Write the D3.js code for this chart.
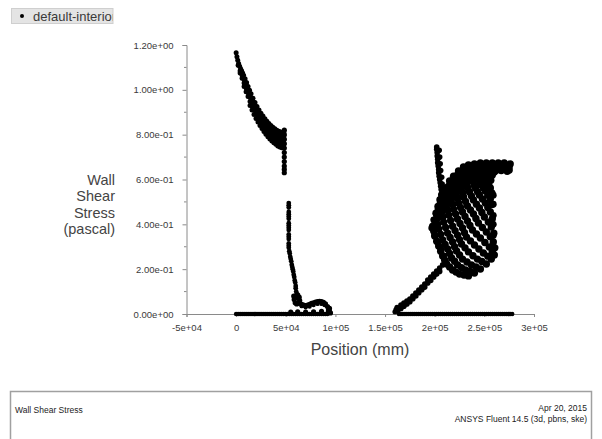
<!DOCTYPE html>
<html>
<head>
<meta charset="utf-8">
<script src="https://cdn.jsdelivr.net/npm/d3@7"></script>
<style>
  html, body { margin: 0; padding: 0; background: #fff; }
  svg { display: block; font-family: "Liberation Sans", Arial, sans-serif; }
</style>
</head>
<body>
<div id="chart"></div>
<script>
// Axis ticks and labels
const X_TICKS = [-50000, 0, 50000, 100000, 150000, 200000, 250000, 300000];
const X_TICK_LABELS = ["-5e+04", "0", "5e+04", "1e+05", "1.5e+05", "2e+05", "2.5e+05", "3e+05"];
const Y_TICKS = [0, 0.2, 0.4, 0.6, 0.8, 1.0, 1.2];
const Y_TICK_LABELS = ["0.00e+00", "2.00e-01", "4.00e-01", "6.00e-01", "8.00e-01", "1.00e+00", "1.20e+00"];
const Y_MINOR = [0.1, 0.3, 0.5, 0.7, 0.9, 1.1];

const SERIES_NAME = "default-interior";
const Y_TITLE = ["Wall", "Shear", "Stress", "(pascal)"];
const X_TITLE = "Position (mm)";
const FOOTER_LEFT = "Wall Shear Stress";
const FOOTER_RIGHT = ["Apr 20, 2015", "ANSYS Fluent 14.5 (3d, pbns, ske)"];

// Wall shear stress samples: [position (mm), stress (Pa)]
// zero-stress faces along the first section
const leftWallX = [0, 2000, 4000, 6000, 8000, 10000, 12000, 14000, 16000, 18000, 20000, 22000,
  24000, 26000, 28000, 30000, 32000, 34000, 36000, 38000, 40000, 42000, 44000, 46000, 48000,
  50000, 52000, 54000, 56000, 58000, 60000, 62000, 64000, 66000, 68000, 70000, 72000, 74000,
  76000, 78000, 80000, 82000, 84000, 86000, 88000, 90000, 92000];
const leftWallBumps = [[55000, 0.008], [62000, 0.01], [70000, 0.008], [78000, 0.01], [86000, 0.012],
  [93000, 0.015], [95000, 0.005], [94000, 0.025]];

// decaying inlet section, several wall lines fanning out
const inletA = [[0, 1.165], [800, 1.148], [1600, 1.132], [2500, 1.118], [3500, 1.105], [4500, 1.094],
  [5500, 1.085], [6500, 1.075], [7500, 1.065], [9000, 1.05], [10500, 1.033], [12000, 1.015],
  [13500, 0.998], [15000, 0.982], [17000, 0.962], [19000, 0.943], [21000, 0.926], [23000, 0.91],
  [25000, 0.896], [27000, 0.883], [29000, 0.871], [31000, 0.86], [33000, 0.85], [35000, 0.841],
  [37000, 0.833], [39000, 0.826], [41000, 0.82], [43000, 0.815], [45000, 0.812], [47000, 0.81],
  [48000, 0.81]];
const inletB = [[2000, 1.11], [4000, 1.085], [6000, 1.065], [8000, 1.045], [10000, 1.025],
  [12000, 1.003], [14000, 0.982], [16000, 0.962], [18000, 0.943], [20000, 0.925], [22000, 0.909],
  [24000, 0.894], [26000, 0.88], [28000, 0.867], [30000, 0.855], [32000, 0.844], [34000, 0.834],
  [36000, 0.825], [38000, 0.817], [40000, 0.81], [42000, 0.803], [44000, 0.798], [46000, 0.795],
  [48000, 0.795]];
const inletC = [[4000, 1.075], [6000, 1.052], [8000, 1.03], [10000, 1.008], [12000, 0.987],
  [14000, 0.966], [16000, 0.946], [18000, 0.927], [20000, 0.91], [22000, 0.893], [24000, 0.878],
  [26000, 0.864], [28000, 0.851], [30000, 0.839], [32000, 0.828], [34000, 0.818], [36000, 0.808],
  [38000, 0.8], [40000, 0.793], [42000, 0.786], [44000, 0.781], [46000, 0.778], [48000, 0.776]];
const inletD = [[8000, 1.015], [10000, 0.992], [12000, 0.97], [14000, 0.948], [16000, 0.928],
  [18000, 0.909], [20000, 0.892], [22000, 0.875], [24000, 0.86], [26000, 0.846], [28000, 0.833],
  [30000, 0.821], [32000, 0.81], [34000, 0.8], [36000, 0.79], [38000, 0.782], [40000, 0.775],
  [42000, 0.768], [44000, 0.763], [46000, 0.76], [48000, 0.758]];
const inletE = [[14000, 0.93], [16000, 0.91], [18000, 0.89], [20000, 0.872], [22000, 0.856],
  [24000, 0.841], [26000, 0.827], [28000, 0.814], [30000, 0.802], [32000, 0.791], [34000, 0.781],
  [36000, 0.772], [38000, 0.764], [40000, 0.757], [42000, 0.75], [44000, 0.745], [46000, 0.742],
  [48000, 0.74]];
const inletStep = [[48500, 0.82], [48500, 0.8], [48500, 0.78], [48500, 0.76], [48500, 0.74],
  [48500, 0.72], [48500, 0.7], [48500, 0.68], [48500, 0.66], [48500, 0.645], [48500, 0.63]];

// drop after the step and recirculation tail
const stepDrop = [[53000, 0.495], [53000, 0.485], [53000, 0.475], [53000, 0.455], [53000, 0.445],
  [53000, 0.435], [53000, 0.425], [53000, 0.405], [53000, 0.395], [53000, 0.385], [53000, 0.375],
  [53000, 0.355], [53000, 0.345], [53000, 0.335], [53000, 0.315], [53000, 0.305], [53000, 0.295],
  [53500, 0.28], [54000, 0.27], [54500, 0.255], [55000, 0.245], [55500, 0.235],
  [56000, 0.22], [56500, 0.21], [57000, 0.2], [57500, 0.19], [58000, 0.175], [58500, 0.165],
  [59000, 0.15], [59500, 0.14], [60000, 0.125], [60000, 0.115], [60500, 0.1], [61000, 0.09],
  [61500, 0.08], [62000, 0.07]];
const recircLoop = [[58000, 0.08], [58500, 0.065], [59500, 0.05], [61000, 0.045], [63000, 0.05],
  [64000, 0.06], [63500, 0.075], [62000, 0.085]];
const recircTail = [[64000, 0.048], [66000, 0.043], [68000, 0.04], [70000, 0.038], [72000, 0.04],
  [74000, 0.043], [76000, 0.047], [78000, 0.05], [80000, 0.053], [82000, 0.055], [84000, 0.056],
  [86000, 0.055], [88000, 0.052], [90000, 0.045], [92000, 0.033], [93000, 0.022], [94000, 0.012]];
const recircTailLow = [[66000, 0.035], [70000, 0.03], [74000, 0.033], [78000, 0.04], [82000, 0.045],
  [86000, 0.045], [89000, 0.04]];

// zero-stress faces along the second section
const rightWallX = [164000, 166000, 168000, 170000, 172000, 174000, 176000, 178000, 180000,
  182000, 184000, 186000, 188000, 190000, 192000, 194000, 196000, 198000, 200000, 202000, 204000,
  206000, 208000, 210000, 212000, 214000, 216000, 218000, 220000, 222000, 224000, 226000, 228000,
  230000, 232000, 234000, 236000, 238000, 240000, 242000, 244000, 246000, 248000, 250000, 252000,
  254000, 256000, 258000, 260000, 262000, 264000, 266000, 268000, 270000, 272000, 274000, 276000,
  278000];
const rightWallBumps = [[160000, 0.01], [161000, 0.02], [162000, 0.03], [163000, 0.015]];

// rising ramp into the outlet section
const outletRamp = [[164000, 0.027], [166000, 0.04], [169000, 0.049], [172000, 0.058], [175000, 0.067],
  [178000, 0.08], [181000, 0.094], [184000, 0.107], [187000, 0.12], [190000, 0.134], [193000, 0.152],
  [196000, 0.165], [199000, 0.178], [202000, 0.192], [205000, 0.205], [208000, 0.219]];
const outletRampLow = [[166000, 0.025], [169000, 0.035], [172000, 0.045], [175000, 0.055],
  [178000, 0.068], [181000, 0.08], [184000, 0.095], [187000, 0.108], [190000, 0.12], [193000, 0.138],
  [196000, 0.15], [199000, 0.165], [202000, 0.178], [205000, 0.19]];

// outlet section: narrow peak and fan of wall lines
const outletPeak = [[202000, 0.745], [202000, 0.735], [202500, 0.72], [202500, 0.705], [203000, 0.69],
  [203000, 0.675], [203500, 0.66], [204000, 0.645], [204000, 0.63], [204500, 0.615], [205000, 0.6],
  [205500, 0.585], [206000, 0.57], [206500, 0.555], [207000, 0.54], [204500, 0.73], [205000, 0.7],
  [205500, 0.67], [206000, 0.64], [207000, 0.61], [207500, 0.58], [208000, 0.555]];
const outletEdge = [[197000, 0.384], [200000, 0.352], [203000, 0.321], [206000, 0.29], [209000, 0.259],
  [211000, 0.232], [199000, 0.42], [201000, 0.45], [203000, 0.48], [205000, 0.51]];
const outletLines = [
  [[207000, 0.531], [211000, 0.562], [215000, 0.593], [219000, 0.615], [224000, 0.638], [229000, 0.656],
   [234000, 0.665], [240000, 0.669], [246000, 0.674], [252000, 0.674], [258000, 0.674], [264000, 0.674],
   [270000, 0.674], [276000, 0.669]],
  [[206000, 0.51], [210000, 0.54], [214000, 0.57], [218000, 0.595], [223000, 0.62], [228000, 0.637],
   [233000, 0.648], [239000, 0.655], [245000, 0.658], [251000, 0.66], [257000, 0.66], [263000, 0.66],
   [269000, 0.66], [275000, 0.657]],
  [[205000, 0.486], [209000, 0.517], [213000, 0.549], [218000, 0.575], [223000, 0.598], [228000, 0.615],
   [233000, 0.629], [239000, 0.638], [245000, 0.642], [251000, 0.647], [257000, 0.647], [263000, 0.647],
   [269000, 0.647], [275000, 0.642]],
  [[203500, 0.464], [207500, 0.495], [211500, 0.527], [216500, 0.555], [221500, 0.58], [226500, 0.6],
   [231500, 0.616], [237500, 0.627], [243500, 0.633], [249500, 0.638], [255500, 0.638], [261500, 0.64],
   [267000, 0.64], [273000, 0.637]],
  [[202000, 0.442], [206000, 0.473], [210000, 0.504], [215000, 0.535], [220000, 0.562], [225000, 0.584],
   [230000, 0.602], [236000, 0.615], [242000, 0.624], [248000, 0.629], [254000, 0.629], [260000, 0.633]],
  [[200000, 0.417], [204000, 0.448], [208500, 0.48], [213500, 0.51], [218500, 0.538], [223500, 0.562],
   [228500, 0.582], [234000, 0.598], [240000, 0.608], [246000, 0.615], [252000, 0.618], [258000, 0.62]],
  [[198000, 0.392], [202000, 0.424], [207000, 0.455], [212000, 0.486], [217000, 0.513], [222000, 0.54],
   [227000, 0.562], [232000, 0.58], [238000, 0.593], [244000, 0.602], [250000, 0.607], [256000, 0.607]],
  [[199000, 0.37], [203000, 0.4], [208000, 0.432], [213000, 0.464], [218000, 0.49], [223000, 0.518],
   [228000, 0.542], [233500, 0.562], [239500, 0.577], [245500, 0.588], [251500, 0.595], [256500, 0.597]],
  [[200000, 0.348], [204000, 0.379], [209000, 0.41], [214000, 0.442], [219000, 0.468], [224000, 0.495],
   [229000, 0.522], [235000, 0.544], [241000, 0.562], [247000, 0.575], [253000, 0.584]],
  [[202000, 0.325], [206000, 0.355], [211000, 0.386], [216000, 0.417], [221000, 0.446], [226000, 0.475],
   [231000, 0.502], [237000, 0.526], [243000, 0.546], [249000, 0.562], [254500, 0.573]],
  [[204000, 0.303], [208000, 0.33], [213000, 0.361], [218000, 0.392], [223000, 0.424], [228000, 0.455],
   [233000, 0.482], [239000, 0.509], [245000, 0.531], [251000, 0.549], [256000, 0.562]],
  [[206000, 0.28], [210500, 0.31], [215500, 0.341], [220500, 0.372], [225500, 0.404], [230500, 0.435],
   [236000, 0.464], [242000, 0.49], [248000, 0.513], [253500, 0.53], [257500, 0.54]],
  [[208000, 0.259], [213000, 0.29], [218000, 0.321], [223000, 0.352], [228000, 0.384], [233000, 0.415],
   [239000, 0.446], [245000, 0.473], [251000, 0.495], [256000, 0.513]],
  [[210000, 0.241], [215000, 0.27], [220000, 0.3], [225000, 0.332], [230000, 0.363], [235500, 0.395],
   [241500, 0.426], [247500, 0.453], [253500, 0.475], [257500, 0.488]],
  [[212000, 0.223], [217000, 0.25], [222000, 0.281], [227000, 0.312], [232000, 0.343], [238000, 0.375],
   [244000, 0.406], [250000, 0.433], [256000, 0.455]],
  [[215000, 0.21], [220000, 0.235], [225000, 0.263], [230500, 0.295], [236000, 0.326], [242000, 0.357],
   [248000, 0.386], [254000, 0.41], [258000, 0.425]],
  [[218000, 0.196], [223000, 0.219], [228000, 0.245], [234000, 0.277], [240000, 0.308], [246000, 0.339],
   [252000, 0.366], [257000, 0.388]],
  [[221500, 0.187], [227000, 0.207], [232500, 0.232], [238500, 0.26], [244500, 0.29], [250500, 0.319],
   [256000, 0.345], [259500, 0.36]],
  [[225000, 0.178], [231000, 0.196], [237000, 0.219], [243000, 0.245], [249000, 0.272], [255000, 0.299],
   [259000, 0.321]],
  [[229500, 0.174], [235500, 0.19], [241500, 0.21], [247500, 0.234], [253500, 0.258], [258000, 0.28],
   [260500, 0.295]],
  [[234000, 0.17], [240000, 0.183], [246000, 0.201], [252000, 0.223], [257000, 0.245], [260000, 0.263]]
];
const outletRightEdge = [[259000, 0.53], [259000, 0.49], [259000, 0.44], [259000, 0.4], [259000, 0.35]];

// ---------------------------------------------------------------
const W = 602, H = 439;
const svg = d3.select("#chart").append("svg").attr("width", W).attr("height", H);
svg.append("rect").attr("width", W).attr("height", H).attr("fill", "#fff");

const x = d3.scaleLinear().domain([-50000, 300000]).range([186.5, 534]);
const y = d3.scaleLinear().domain([0, 1.2]).range([314, 45]);

const AXIS_COLOR = "#8a8a8a";
const TEXT_COLOR = "#3a3a3a";

// Legend
const legend = svg.append("g");
legend.append("clipPath").attr("id", "legclip")
  .append("rect").attr("x", 11).attr("y", 8).attr("width", 101.5).attr("height", 16);
legend.append("rect").attr("x", 11.5).attr("y", 8.5).attr("width", 101.5).attr("height", 15)
  .attr("fill", "#e4e4e4").attr("stroke", "#cfcfcf");
legend.append("circle").attr("cx", 22).attr("cy", 16).attr("r", 2).attr("fill", "#000");
legend.append("text").attr("x", 33).attr("y", 20.5).attr("clip-path", "url(#legclip)")
  .attr("font-size", 13).attr("fill", TEXT_COLOR).text(SERIES_NAME);

// Y axis
const yAxis = d3.axisLeft(y).tickValues(Y_TICKS).tickSize(4)
  .tickFormat((d, i) => Y_TICK_LABELS[i]);
const gy = svg.append("g").attr("transform", `translate(${x(-50000)},0)`).call(yAxis);
gy.select(".domain").attr("stroke", AXIS_COLOR);
gy.selectAll(".tick line").attr("stroke", AXIS_COLOR);
gy.selectAll(".tick text").attr("x", -13).attr("font-size", 9.5)
  .attr("font-family", "Liberation Sans, Arial, sans-serif").attr("fill", TEXT_COLOR);
gy.selectAll(".minor").data(Y_MINOR).enter().append("line").attr("class", "minor")
  .attr("x1", -2.5).attr("x2", 0).attr("y1", d => y(d)).attr("y2", d => y(d))
  .attr("stroke", AXIS_COLOR);

// X axis
const xAxis = d3.axisBottom(x).tickValues(X_TICKS).tickSize(3)
  .tickFormat((d, i) => X_TICK_LABELS[i]);
const gx = svg.append("g").attr("transform", `translate(0,${y(0)})`).call(xAxis);
gx.select(".domain").attr("stroke", AXIS_COLOR);
gx.selectAll(".tick line").attr("stroke", AXIS_COLOR);
gx.selectAll(".tick text").attr("y", 10).attr("font-size", 9.5)
  .attr("font-family", "Liberation Sans, Arial, sans-serif").attr("fill", TEXT_COLOR);

// Axis titles
Y_TITLE.forEach((s, i) => {
  svg.append("text").attr("x", 115).attr("y", 185 + i * 16.3).attr("text-anchor", "end")
    .attr("font-size", 14.5).attr("fill", "#444").text(s);
});
svg.append("text").attr("x", 360).attr("y", 355).attr("text-anchor", "middle")
  .attr("font-size", 16).attr("fill", "#444").text(X_TITLE);

// Points
const plot = svg.append("g").attr("fill", "#000");
function drawPoints(pts, r = 2.6) {
  plot.append("g").selectAll("circle").data(pts).enter().append("circle")
    .attr("cx", d => x(d[0])).attr("cy", d => y(d[1])).attr("r", r);
}
drawPoints(leftWallX.map(v => [v, 0]), 2.3);
drawPoints(leftWallBumps);
[inletA, inletB, inletC, inletD, inletE].forEach(s => drawPoints(s, 2.5));
drawPoints(inletStep);
drawPoints(stepDrop, 2.4);
drawPoints(recircLoop);
drawPoints(recircTail);
drawPoints(recircTailLow, 2.2);
drawPoints(rightWallX.map(v => [v, 0]), 2.3);
drawPoints(rightWallBumps);
drawPoints(outletRamp, 2.8);
drawPoints(outletRampLow, 2.8);
drawPoints(outletPeak, 2.8);
drawPoints(outletEdge, 3.4);
outletLines.forEach(s => drawPoints(s, 3.7));
drawPoints(outletRightEdge, 3.4);

// Footer panel
const foot = svg.append("g");
foot.append("rect").attr("x", 10.5).attr("y", 391.5).attr("width", 581).attr("height", 60)
  .attr("fill", "#fff").attr("stroke", "#a0a0a0").attr("stroke-width", 1.5);
foot.append("text").attr("x", 15).attr("y", 413).attr("font-size", 8.5).attr("fill", "#222")
  .text(FOOTER_LEFT);
FOOTER_RIGHT.forEach((s, i) => {
  foot.append("text").attr("x", 587).attr("y", 411 + i * 11).attr("text-anchor", "end")
    .attr("font-size", 8.5).attr("fill", "#222").text(s);
});
</script>
</body>
</html>
